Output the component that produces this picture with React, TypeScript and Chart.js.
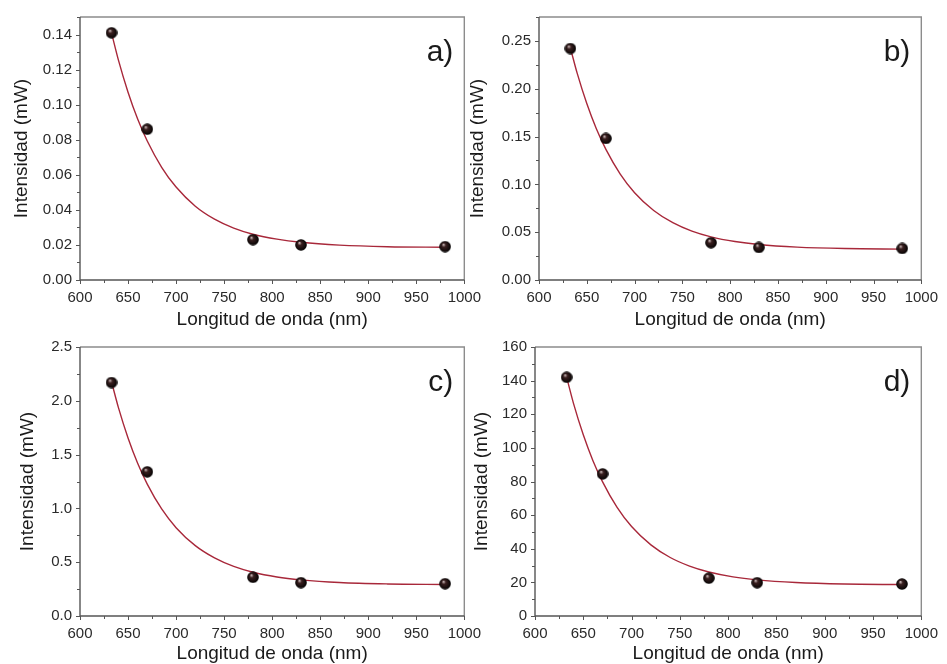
import React, { useEffect, useRef } from "react";
import { Chart, registerables } from "chart.js";

Chart.register(...registerables);

// ---- data ----
const wavelengths = [632.8, 670, 780, 830, 980];
const intensityA = [0.141, 0.086, 0.023, 0.020, 0.019];
const intensityB = [0.242, 0.148, 0.039, 0.034, 0.033];
const intensityC = [2.17, 1.34, 0.36, 0.31, 0.30];
const intensityD = [142, 84.5, 22.5, 19.8, 19.0];

// fitted (red) curves
const fitWavelengths = [633, 640, 650, 660, 670, 685, 700, 720, 740, 760, 780, 805, 830, 870, 920, 980];
const fitA = [0.1405, 0.1254, 0.1071, 0.0918, 0.0793, 0.0643, 0.0530, 0.0421, 0.0347, 0.0296, 0.0261, 0.0233, 0.0215, 0.0199, 0.0190, 0.0187];
const fitB = [0.242, 0.216, 0.1845, 0.1582, 0.1366, 0.1108, 0.0913, 0.0727, 0.0599, 0.0511, 0.0451, 0.0402, 0.0371, 0.0344, 0.0329, 0.0323];
const fitC = [2.17, 1.937, 1.655, 1.420, 1.226, 0.995, 0.821, 0.654, 0.540, 0.461, 0.407, 0.363, 0.336, 0.311, 0.298, 0.293];
const fitD = [141.5, 126.2, 107.8, 92.4, 79.8, 64.6, 53.2, 42.3, 34.8, 29.7, 26.2, 23.3, 21.5, 19.9, 19.0, 18.7];

// tick labels
const xTicks = [600, 650, 700, 750, 800, 850, 900, 950, 1000];
const yTicksA = [0, 0.02, 0.04, 0.06, 0.08, 0.10, 0.12, 0.14];
const yTicksB = [0, 0.05, 0.10, 0.15, 0.20, 0.25];
const yTicksC = [0, 0.5, 1.0, 1.5, 2.0, 2.5];
const yTicksD = [0, 20, 40, 60, 80, 100, 120, 140, 160];

const panelLabels = ["a)", "b)", "c)", "d)"];
const xTitle = "Longitud de onda (nm)";
const yTitle = "Intensidad (mW)";

const FONT = "'Liberation Sans', Arial, Helvetica, sans-serif";

type Panel = {
  label: string;
  values: number[];
  fit: number[];
  yTicks: number[];
  yMax: number;
  yMinor: number;
  decimals: number;
  box: { left: number; top: number; w: number; h: number };
  pad: { top: number; right: number };
  yWidth: number;
  xHeight: number;
  yTitlePad: number;
};

const panels: Panel[] = [
  {
    label: panelLabels[0], values: intensityA, fit: fitA, yTicks: yTicksA, yMax: 0.15, yMinor: 0.01, decimals: 2,
    box: { left: 0, top: 0, w: 490, h: 330 }, pad: { top: 9, right: 23 }, yWidth: 80, xHeight: 50, yTitlePad: 10,
  },
  {
    label: panelLabels[1], values: intensityB, fit: fitB, yTicks: yTicksB, yMax: 0.275, yMinor: 0.025, decimals: 2,
    box: { left: 460, top: 0, w: 487, h: 330 }, pad: { top: 9, right: 21 }, yWidth: 79, xHeight: 50, yTitlePad: 6,
  },
  {
    label: panelLabels[2], values: intensityC, fit: fitC, yTicks: yTicksC, yMax: 2.5, yMinor: 0.25, decimals: 1,
    box: { left: 0, top: 330, w: 490, h: 334 }, pad: { top: 15, right: 25 }, yWidth: 80, xHeight: 48, yTitlePad: 16,
  },
  {
    label: panelLabels[3], values: intensityD, fit: fitD, yTicks: yTicksD, yMax: 160, yMinor: 10, decimals: 0,
    box: { left: 460, top: 330, w: 487, h: 334 }, pad: { top: 15, right: 23 }, yWidth: 75, xHeight: 48, yTitlePad: 10,
  },
];

function makeSphere(): HTMLCanvasElement {
  const c = document.createElement("canvas");
  c.width = 12;
  c.height = 12;
  const g = c.getContext("2d")!;
  const grad = g.createRadialGradient(4.3, 3.8, 0.3, 6, 6, 6);
  grad.addColorStop(0, "#c8b8b8");
  grad.addColorStop(0.3, "#3a2020");
  grad.addColorStop(1, "#000000");
  g.fillStyle = grad;
  g.beginPath();
  g.arc(6, 6, 5.8, 0, Math.PI * 2);
  g.fill();
  return c;
}

const decorPlugin = {
  id: "decor",
  afterDraw(chart: any, _args: any, opts: any) {
    const { ctx, chartArea } = chart;
    const { left, right, top, bottom } = chartArea;
    const xs = chart.scales.x;
    const ys = chart.scales.y;
    ctx.save();
    // frame
    ctx.strokeStyle = "#8c8c8c";
    ctx.lineWidth = 1.4;
    ctx.beginPath();
    ctx.moveTo(left, top);
    ctx.lineTo(right, top);
    ctx.lineTo(right, bottom);
    ctx.stroke();
    ctx.strokeStyle = "#555555";
    ctx.beginPath();
    ctx.moveTo(left, top);
    ctx.lineTo(left, bottom);
    ctx.lineTo(right, bottom);
    ctx.stroke();
    // ticks
    ctx.lineWidth = 1;
    ctx.strokeStyle = "#555555";
    const nx = Math.round((xs.max - xs.min) / opts.xMinor);
    for (let i = 0; i <= nx; i++) {
      const v = xs.min + i * opts.xMinor;
      const px = Math.round(xs.getPixelForValue(v)) + 0.5;
      const len = i % 2 === 0 ? 4 : 3;
      ctx.beginPath();
      ctx.moveTo(px, bottom);
      ctx.lineTo(px, bottom + len);
      ctx.stroke();
    }
    const ny = Math.round((ys.max - ys.min) / opts.yMinor);
    for (let i = 0; i <= ny; i++) {
      const v = ys.min + i * opts.yMinor;
      const py = Math.round(ys.getPixelForValue(v)) + 0.5;
      const len = i % 2 === 0 ? 4 : 3;
      ctx.beginPath();
      ctx.moveTo(left, py);
      ctx.lineTo(left - len, py);
      ctx.stroke();
    }
    // panel label
    ctx.fillStyle = "#1a1a1a";
    ctx.font = `30px ${FONT}`;
    ctx.textAlign = "right";
    ctx.textBaseline = "middle";
    ctx.fillText(opts.label, right - 11, top + 36);
    ctx.restore();
  },
};

function PanelChart({ p }: { p: Panel }) {
  const ref = useRef<HTMLCanvasElement | null>(null);
  useEffect(() => {
    const canvas = ref.current!;
    const sphere = makeSphere();
    const chart = new Chart(canvas, {
      type: "scatter",
      data: {
        datasets: [
          {
            data: wavelengths.map((x, i) => ({ x, y: p.values[i] })),
            pointStyle: sphere as any,
            pointRadius: 6,
            showLine: false,
          },
          {
            data: fitWavelengths.map((x, i) => ({ x, y: p.fit[i] })),
            showLine: true,
            pointRadius: 0,
            borderColor: "#a8283a",
            borderWidth: 1.4,
            cubicInterpolationMode: "monotone",
          },
        ],
      },
      options: {
        responsive: false,
        animation: false,
        events: [],
        layout: { padding: { top: p.pad.top, right: p.pad.right, left: 0, bottom: 0 } },
        plugins: {
          legend: { display: false },
          tooltip: { enabled: false },
          decor: { xMinor: 25, yMinor: p.yMinor, label: p.label },
        } as any,
        scales: {
          x: {
            type: "linear",
            min: 600,
            max: 1000,
            grid: { display: false, drawTicks: false },
            border: { display: false },
            afterBuildTicks: (s: any) => {
              s.ticks = xTicks.map((v) => ({ value: v }));
            },
            afterFit: (s: any) => {
              s.height = p.xHeight;
            },
            ticks: {
              padding: 9,
              color: "#2a2a2a",
              font: { family: FONT, size: 15 },
              maxRotation: 0,
              callback: (v: any) => String(v),
            },
            title: {
              display: true,
              text: xTitle,
              color: "#1a1a1a",
              font: { family: FONT, size: 19, lineHeight: 1.05 },
              padding: { top: 0, bottom: 0 },
            },
          },
          y: {
            type: "linear",
            min: 0,
            max: p.yMax,
            grid: { display: false, drawTicks: false },
            border: { display: false },
            afterBuildTicks: (s: any) => {
              s.ticks = p.yTicks.map((v) => ({ value: v }));
            },
            afterFit: (s: any) => {
              s.width = p.yWidth;
            },
            ticks: {
              padding: 8,
              color: "#2a2a2a",
              font: { family: FONT, size: 15 },
              callback: (v: any) => Number(v).toFixed(p.decimals),
            },
            title: {
              display: true,
              text: yTitle,
              color: "#1a1a1a",
              font: { family: FONT, size: 19, lineHeight: 1.2 },
              padding: { top: p.yTitlePad, bottom: 0 },
            },
          },
        },
      } as any,
      plugins: [decorPlugin as any],
    });
    return () => chart.destroy();
  }, [p]);
  return (
    <canvas
      ref={ref}
      width={p.box.w}
      height={p.box.h}
      style={{ position: "absolute", left: p.box.left, top: p.box.top, width: p.box.w, height: p.box.h }}
    />
  );
}

export default function App() {
  return (
    <div style={{ position: "absolute", left: 0, top: 0, width: 947, height: 664, background: "#ffffff", overflow: "hidden" }}>
      {panels.map((p, i) => (
        <PanelChart key={i} p={p} />
      ))}
    </div>
  );
}
